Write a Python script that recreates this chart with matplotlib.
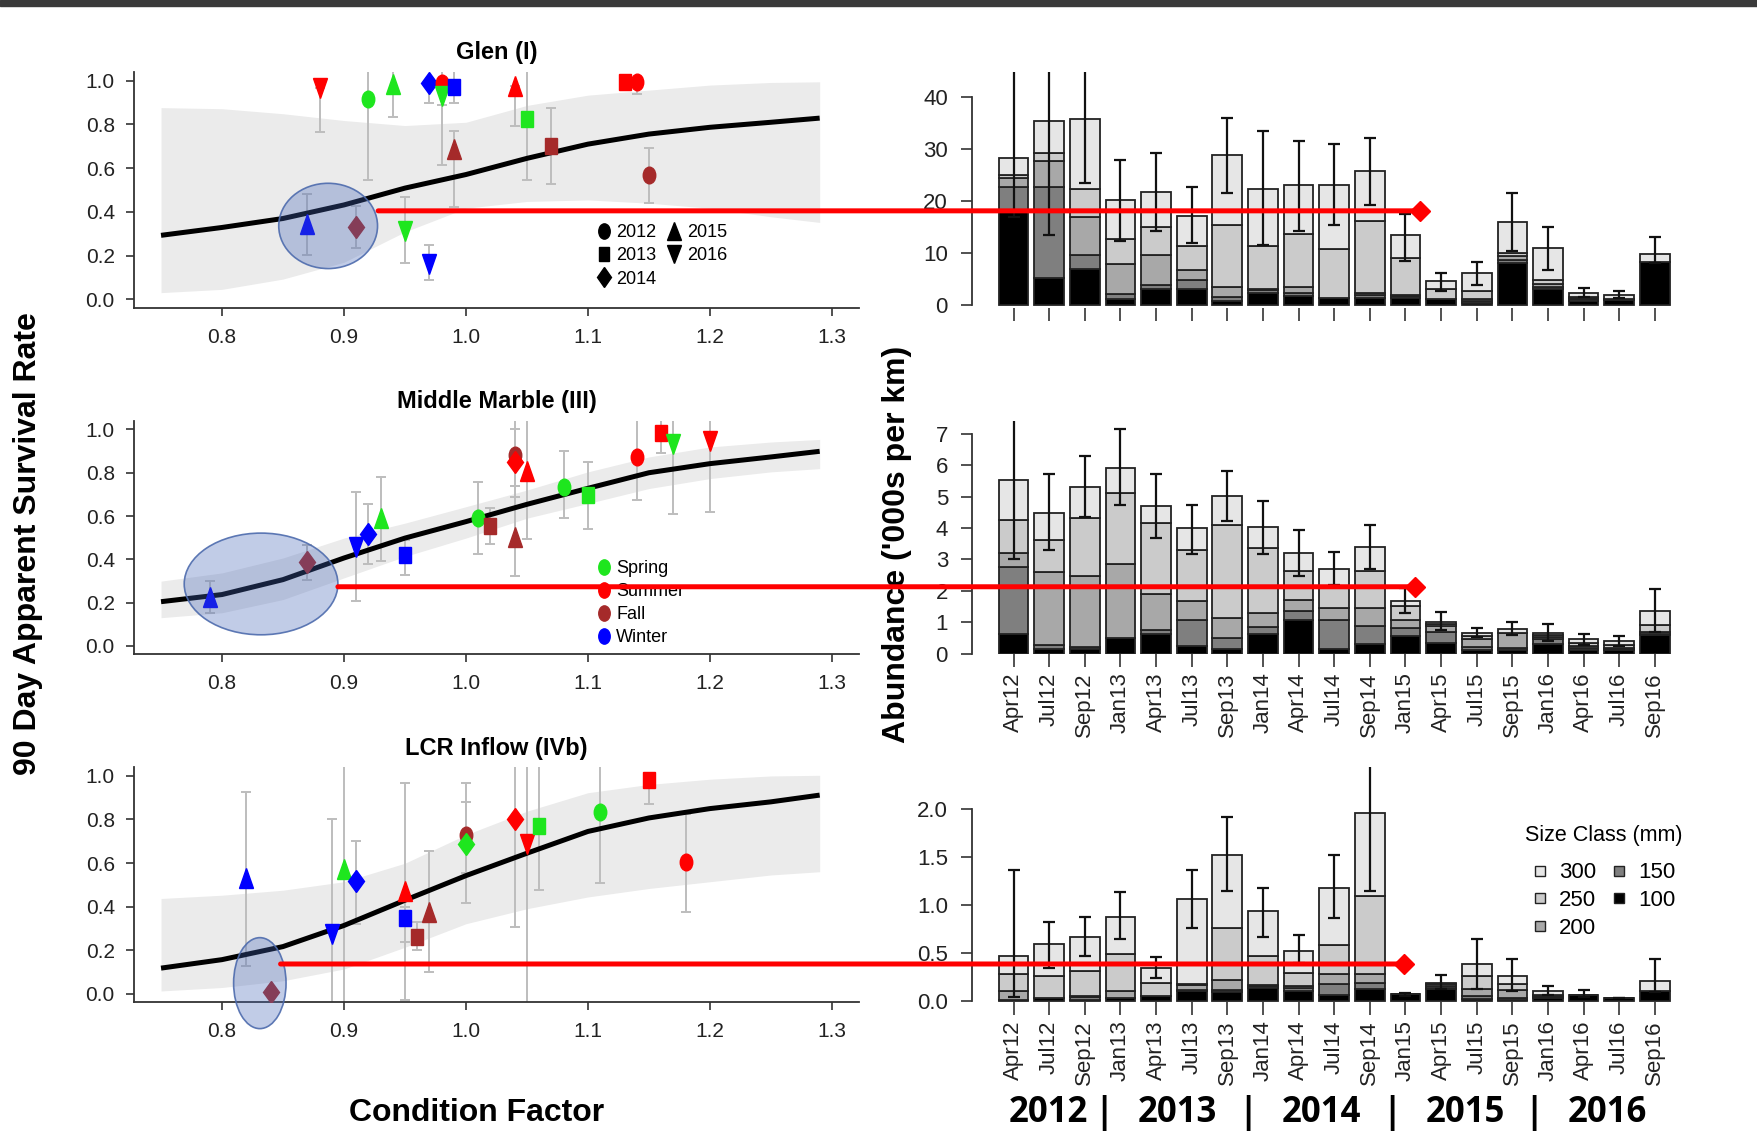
import matplotlib
matplotlib.use("Agg")
import matplotlib.pyplot as plt
import numpy as np
from matplotlib.markers import MarkerStyle
from matplotlib.transforms import Affine2D, blended_transform_factory
from matplotlib.patches import Ellipse, ConnectionPatch, Rectangle
from matplotlib.lines import Line2D

plt.rcParams['font.family'] = ['Liberation Sans', 'DejaVu Sans']

# ---------------- survival vs condition factor (left column) ----------------
fit_x = [0.75, 0.80, 0.85, 0.90, 0.95, 1.00, 1.05, 1.10, 1.15, 1.20, 1.25, 1.29]

glen_fit = [0.293, 0.329, 0.370, 0.432, 0.509, 0.571, 0.645, 0.710, 0.756, 0.787, 0.810, 0.829]
glen_hi_band = [0.877, 0.872, 0.849, 0.818, 0.795, 0.810, 0.887, 0.934, 0.957, 0.980, 0.992, 0.995]
glen_lo_band = [0.031, 0.046, 0.093, 0.170, 0.309, 0.417, 0.448, 0.455, 0.440, 0.417, 0.378, 0.352]

mm_fit = [0.204, 0.237, 0.306, 0.406, 0.498, 0.574, 0.654, 0.728, 0.800, 0.842, 0.873, 0.899]
mm_hi_band = [0.299, 0.337, 0.406, 0.498, 0.567, 0.643, 0.720, 0.804, 0.873, 0.919, 0.942, 0.954]
mm_lo_band = [0.130, 0.153, 0.214, 0.314, 0.413, 0.498, 0.590, 0.658, 0.727, 0.773, 0.804, 0.819]

lcr_fit = [0.117, 0.156, 0.216, 0.313, 0.429, 0.542, 0.645, 0.745, 0.807, 0.850, 0.881, 0.912]
lcr_hi_band = [0.437, 0.452, 0.475, 0.514, 0.599, 0.730, 0.838, 0.923, 0.961, 0.985, 1.000, 1.003]
lcr_lo_band = [0.012, 0.028, 0.059, 0.113, 0.213, 0.321, 0.390, 0.444, 0.483, 0.514, 0.545, 0.560]

glen_cf = [0.88, 0.92, 0.94, 0.97, 0.98, 0.98, 0.99, 0.99, 1.04, 1.05, 1.07, 1.13, 1.14, 1.15, 0.87, 0.91, 0.95, 0.97]
glen_surv = [0.965, 0.918, 0.985, 0.988, 0.988, 0.930, 0.969, 0.687, 0.975, 0.823, 0.700, 0.992, 0.992, 0.568, 0.347, 0.329, 0.312, 0.162]
glen_lo = [0.764, 0.545, 0.836, 0.900, 0.890, 0.614, 0.900, 0.424, 0.795, 0.545, 0.529, 0.970, 0.938, 0.440, 0.205, 0.236, 0.167, 0.088]
glen_hi = [0.965, 1.100, 1.100, 0.988, 0.988, 1.100, 1.100, 0.772, 0.975, 1.100, 0.875, 0.992, 0.992, 0.694, 0.481, 0.427, 0.468, 0.247]
glen_season = ['Su', 'Sp', 'Sp', 'Wi', 'Su', 'Sp', 'Wi', 'Fa', 'Su', 'Sp', 'Fa', 'Su', 'Su', 'Fa', 'Wi', 'Fa', 'Sp', 'Wi']
glen_year = [2016, 2012, 2015, 2014, 2012, 2016, 2013, 2015, 2015, 2013, 2013, 2013, 2012, 2012, 2015, 2014, 2016, 2016]

mm_cf = [0.79, 0.87, 0.91, 0.92, 0.93, 0.95, 1.01, 1.02, 1.04, 1.04, 1.04, 1.05, 1.08, 1.10, 1.14, 1.16, 1.17, 1.20]
mm_surv = [0.227, 0.386, 0.456, 0.516, 0.593, 0.421, 0.590, 0.556, 0.884, 0.850, 0.505, 0.807, 0.735, 0.697, 0.873, 0.983, 0.934, 0.945]
mm_lo = [0.150, 0.306, 0.207, 0.378, 0.390, 0.329, 0.424, 0.470, 0.740, 0.690, 0.322, 0.493, 0.593, 0.540, 0.674, 0.893, 0.609, 0.620]
mm_hi = [0.299, 0.467, 0.712, 0.655, 0.781, 0.490, 0.758, 0.639, 1.100, 1.000, 0.737, 1.100, 0.899, 0.850, 1.100, 1.100, 1.100, 1.100]
mm_season = ['Wi', 'Fa', 'Wi', 'Wi', 'Sp', 'Wi', 'Sp', 'Fa', 'Fa', 'Su', 'Fa', 'Su', 'Sp', 'Sp', 'Su', 'Su', 'Sp', 'Su']
mm_year = [2015, 2014, 2016, 2014, 2015, 2013, 2012, 2013, 2012, 2014, 2015, 2015, 2012, 2013, 2012, 2013, 2016, 2016]

lcr_cf = [0.82, 0.84, 0.89, 0.90, 0.91, 0.95, 0.95, 0.96, 0.97, 1.00, 1.00, 1.04, 1.05, 1.06, 1.11, 1.15, 1.18]
lcr_surv = [0.532, 0.008, 0.275, 0.573, 0.517, 0.471, 0.347, 0.262, 0.375, 0.727, 0.688, 0.800, 0.688, 0.772, 0.833, 0.980, 0.603]
lcr_lo = [0.128, 0.000, -0.100, -0.100, 0.320, -0.030, 0.236, 0.202, 0.097, 0.556, 0.417, 0.306, -0.100, 0.478, 0.509, 0.872, 0.375]
lcr_hi = [0.926, 0.020, 0.800, 1.100, 0.700, 0.966, 0.400, 0.329, 0.653, 0.880, 0.966, 1.100, 1.100, 1.100, 1.100, 0.980, 0.823]
lcr_season = ['Wi', 'Fa', 'Wi', 'Sp', 'Wi', 'Su', 'Wi', 'Fa', 'Fa', 'Fa', 'Sp', 'Su', 'Su', 'Sp', 'Sp', 'Su', 'Su']
lcr_year = [2015, 2014, 2016, 2015, 2014, 2015, 2013, 2013, 2015, 2012, 2014, 2014, 2016, 2013, 2012, 2013, 2012]

season_names = ['Spring', 'Summer', 'Fall', 'Winter']
season_codes = ['Sp', 'Su', 'Fa', 'Wi']
season_colors = {'Sp': '#1EE61E', 'Su': '#FF0000', 'Fa': '#A52A2A', 'Wi': '#0000FF'}
years = [2012, 2013, 2014, 2015, 2016]
year_markers = {2012: 'o', 2013: 's', 2014: 'D', 2015: '^', 2016: 'v'}
marker_size = {'o': 12, 's': 11, 'D': 11, '^': 14, 'v': 14}

# ---------------- abundance by size class (right column) ----------------
months = ['Apr12', 'Jul12', 'Sep12', 'Jan13', 'Apr13', 'Jul13', 'Sep13', 'Jan14', 'Apr14', 'Jul14',
          'Sep14', 'Jan15', 'Apr15', 'Jul15', 'Sep15', 'Jan16', 'Apr16', 'Jul16', 'Sep16']
size_classes = ['100', '150', '200', '250', '300']
size_colors = ['#000000', '#7F7F7F', '#A8A8A8', '#CBCBCB', '#E6E6E6']

# cumulative heights (top of each size class segment)
glen_cum = [
    [17.8, 5.2, 6.9, 1.1, 3.1, 3.1, 0.8, 2.3, 1.8, 1.4, 1.4, 1.4, 1.1, 0.45, 8.0, 3.0, 0.8, 1.0, 8.3],
    [22.7, 22.7, 9.7, 2.2, 3.9, 4.9, 1.6, 2.9, 2.4, 1.4, 1.9, 1.8, 1.1, 0.8, 8.6, 3.5, 1.2, 1.0, 8.3],
    [24.4, 27.7, 17.0, 7.8, 9.7, 6.8, 3.4, 3.1, 3.5, 1.4, 2.4, 2.0, 1.1, 1.1, 9.4, 4.0, 1.3, 1.1, 8.3],
    [25.0, 29.3, 22.4, 12.7, 15.0, 11.3, 15.3, 11.3, 13.7, 10.7, 16.2, 9.1, 3.0, 2.7, 10.0, 4.8, 1.5, 1.2, 8.3],
    [28.3, 35.4, 35.7, 20.2, 21.8, 17.2, 28.9, 22.4, 23.1, 23.1, 25.7, 13.4, 4.6, 6.2, 15.9, 11.0, 2.4, 1.9, 9.9],
]
glen_ab_lo = [17.0, 13.4, 23.4, 12.4, 14.3, 12.0, 21.5, 11.5, 14.3, 15.3, 19.2, 8.5, 2.7, 3.9, 10.3, 6.8, 1.6, 1.3, 8.0]
glen_ab_hi = [50.0, 50.0, 50.0, 27.9, 29.2, 22.7, 36.0, 33.4, 31.5, 30.9, 32.1, 17.5, 6.2, 8.2, 21.5, 15.0, 3.2, 2.7, 13.0]

mm_cum = [
    [0.61, 0.13, 0.13, 0.50, 0.61, 0.23, 0.13, 0.61, 1.06, 0.13, 0.29, 0.56, 0.33, 0.10, 0.10, 0.30, 0.12, 0.10, 0.59],
    [2.75, 0.26, 0.21, 0.50, 0.76, 1.08, 0.48, 0.84, 1.35, 1.08, 0.87, 0.80, 0.68, 0.20, 0.17, 0.45, 0.17, 0.14, 0.62],
    [3.22, 2.59, 2.48, 2.85, 1.90, 1.68, 1.13, 1.30, 1.72, 1.46, 1.46, 1.07, 0.88, 0.46, 0.67, 0.54, 0.24, 0.19, 0.70],
    [4.26, 3.61, 4.31, 5.12, 4.15, 3.29, 4.10, 3.36, 2.64, 2.08, 2.64, 1.51, 0.95, 0.56, 0.67, 0.59, 0.35, 0.27, 0.91],
    [5.54, 4.47, 5.32, 5.91, 4.69, 3.99, 5.02, 4.04, 3.19, 2.69, 3.40, 1.68, 1.02, 0.67, 0.78, 0.67, 0.45, 0.40, 1.36],
]
mm_ab_lo = [3.00, 3.29, 4.35, 4.73, 3.67, 3.17, 4.22, 3.17, 2.48, 2.20, 2.70, 1.30, 0.75, 0.52, 0.59, 0.41, 0.27, 0.25, 0.70]
mm_ab_hi = [7.60, 5.72, 6.30, 7.16, 5.72, 4.73, 5.83, 4.86, 3.94, 3.24, 4.10, 2.10, 1.31, 0.82, 0.99, 0.94, 0.61, 0.56, 2.05]

lcr_cum = [
    [0.017, 0.035, 0.017, 0.035, 0.052, 0.104, 0.097, 0.139, 0.108, 0.070, 0.125, 0.073, 0.125, 0.028, 0.017, 0.038, 0.070, 0.038, 0.104],
    [0.017, 0.035, 0.042, 0.035, 0.052, 0.118, 0.118, 0.156, 0.139, 0.177, 0.194, 0.073, 0.140, 0.052, 0.035, 0.045, 0.070, 0.038, 0.104],
    [0.104, 0.035, 0.052, 0.104, 0.052, 0.167, 0.222, 0.174, 0.156, 0.282, 0.285, 0.073, 0.160, 0.132, 0.115, 0.052, 0.070, 0.038, 0.104],
    [0.285, 0.260, 0.313, 0.490, 0.191, 0.180, 0.758, 0.473, 0.299, 0.584, 1.097, 0.073, 0.177, 0.260, 0.184, 0.070, 0.070, 0.038, 0.104],
    [0.473, 0.600, 0.671, 0.880, 0.344, 1.060, 1.520, 0.936, 0.525, 1.180, 1.950, 0.073, 0.195, 0.390, 0.264, 0.108, 0.070, 0.038, 0.209],
]
lcr_ab_lo = [0.05, 0.348, 0.473, 0.650, 0.243, 0.760, 1.150, 0.671, 0.393, 0.866, 1.150, 0.060, 0.125, 0.132, 0.104, 0.070, 0.050, 0.038, 0.100]
lcr_ab_hi = [1.36, 0.824, 0.880, 1.130, 0.456, 1.360, 1.910, 1.180, 0.689, 1.520, 2.600, 0.087, 0.278, 0.650, 0.440, 0.156, 0.122, 0.038, 0.440]

# highlighted low-condition groups and the arrows into the abundance plots
ellipses = [(0.887, 0.336, 0.081, 0.39), (0.832, 0.286, 0.126, 0.47), (0.831, 0.048, 0.043, 0.418)]
arrow_start = [(0.928, 0.405), (0.895, 0.273), (0.848, 0.136)]
arrow_end_x = [14.38, 14.21, 13.85]

year_text = ['2012', '|', '2013', '|', '2014', '|', '2015', '|', '2016']
year_text_x = [935, 985, 1050, 1113, 1179, 1241, 1307, 1368, 1434]


def mk(m):
    # R output here looks horizontally squeezed
    return MarkerStyle(m, transform=Affine2D().scale(0.75, 1.0))


fig = plt.figure(figsize=(17.58, 11.46), dpi=100)
W, H = 1568.0, 1022.0
rows = [(0.7311, 0.2061), (0.4289, 0.2039), (0.1254, 0.2051)]

fig.patches.append(Rectangle((0, 1 - 6 / 1146), 1, 6 / 1146, transform=fig.transFigure,
                             color='#3A3A3A', zorder=0))

left_axes = []
right_axes = []
panels = [
    ('Glen (I)', glen_fit, glen_lo_band, glen_hi_band, glen_cf, glen_surv, glen_lo, glen_hi, glen_season, glen_year),
    ('Middle Marble (III)', mm_fit, mm_lo_band, mm_hi_band, mm_cf, mm_surv, mm_lo, mm_hi, mm_season, mm_year),
    ('LCR Inflow (IVb)', lcr_fit, lcr_lo_band, lcr_hi_band, lcr_cf, lcr_surv, lcr_lo, lcr_hi, lcr_season, lcr_year),
]

for i, (title, fit, blo, bhi, cx, cy, clo, chi, cseas, cyear) in enumerate(panels):
    b, h = rows[i]
    ax = fig.add_axes([119.7 / W, b, 646.2 / W, h])
    ax.fill_between(fit_x, blo, bhi, color='#EBEBEB', lw=0, zorder=1)
    ax.plot(fit_x, fit, color='black', lw=3.6, zorder=3, solid_capstyle='butt')
    cx = np.array(cx); cy = np.array(cy)
    yerr = [cy - np.array(clo), np.array(chi) - cy]
    ax.errorbar(cx, cy, yerr=yerr, fmt='none', ecolor='#BDBDBD', elinewidth=1.4,
                capsize=3.5, capthick=1.4, zorder=2)
    for xv, yv, s, yr in zip(cx, cy, cseas, cyear):
        m = year_markers[yr]
        ax.plot(xv, yv, ls='none', marker=mk(m), ms=marker_size[m],
                color=season_colors[s], mec=season_colors[s], zorder=4)
    ax.set_xlim(0.728, 1.322)
    ax.set_ylim(-0.04, 1.04)
    ax.set_xticks([0.8, 0.9, 1.0, 1.1, 1.2, 1.3])
    ax.set_xticklabels(['0.8', '0.9', '1.0', '1.1', '1.2', '1.3'])
    ax.set_yticks([0, 0.2, 0.4, 0.6, 0.8, 1.0])
    ax.set_yticklabels(['0.0', '0.2', '0.4', '0.6', '0.8', '1.0'])
    for sp in ['top', 'right']:
        ax.spines[sp].set_visible(False)
    for sp in ['left', 'bottom']:
        ax.spines[sp].set_linewidth(1.3)
        ax.spines[sp].set_color('#333333')
    ax.tick_params(direction='out', length=6, width=1.2, color='#333333', labelsize=15,
                   labelcolor='#222222', pad=8)
    ax.set_title(title, fontsize=17, fontweight='bold', pad=9)
    ex, ey, ew, eh = ellipses[i]
    ax.add_patch(Ellipse((ex, ey), ew, eh, facecolor=(0.27, 0.40, 0.72, 0.33),
                         edgecolor=(0.30, 0.42, 0.68, 0.9), lw=1.2, zorder=6, clip_on=False))
    left_axes.append(ax)

# legends on the left panels
yr_handles = [Line2D([], [], ls='none', marker=mk(year_markers[y]), ms=marker_size[year_markers[y]] - 1,
                     color='black') for y in years]
left_axes[0].legend(yr_handles, [str(y) for y in years], ncol=2, loc='upper left',
                    bbox_to_anchor=(0.638, 0.355), frameon=False, fontsize=13, handlelength=0.8,
                    handletextpad=0.3, columnspacing=0.6, labelspacing=0.34, borderpad=0,
                    borderaxespad=0)
se_handles = [Line2D([], [], ls='none', marker=mk('o'), ms=11, color=season_colors[c]) for c in season_codes]
left_axes[1].legend(se_handles, season_names, loc='upper left', bbox_to_anchor=(0.638, 0.405),
                    frameon=False, fontsize=13, handlelength=0.8, handletextpad=0.3,
                    labelspacing=0.34, borderpad=0, borderaxespad=0)

# abundance panels
xpos = 0.7 + 1.2 * np.arange(len(months))
ab_panels = [
    (glen_cum, glen_ab_lo, glen_ab_hi, (-0.6, 44.8), [0, 10, 20, 30, 40], ['0', '10', '20', '30', '40']),
    (mm_cum, mm_ab_lo, mm_ab_hi, (-0.03, 7.42), list(range(8)), [str(v) for v in range(8)]),
    (lcr_cum, lcr_ab_lo, lcr_ab_hi, (-0.01, 2.43), [0, 0.5, 1.0, 1.5, 2.0], ['0.0', '0.5', '1.0', '1.5', '2.0']),
]
for i, (cum, alo, ahi, ylim, yt, ytl) in enumerate(ab_panels):
    b, h = rows[i]
    ax = fig.add_axes([866.6 / W, b, 652.1 / W, h])
    prev = np.zeros(len(months))
    for k in range(5):
        top = np.array(cum[k])
        ax.bar(xpos, top - prev, bottom=prev, width=1.0, color=size_colors[k],
               edgecolor='#222222', linewidth=1.3, zorder=2)
        prev = top
    tot = np.array(cum[4])
    ax.errorbar(xpos, tot, yerr=[tot - np.array(alo), np.array(ahi) - tot], fmt='none',
                ecolor='#111111', elinewidth=1.6, capsize=4.5, capthick=1.6, zorder=3)
    ax.set_xlim(-0.712, 23.912)
    ax.set_ylim(*ylim)
    ax.set_yticks(yt)
    ax.set_yticklabels(ytl)
    ax.set_xticks(xpos)
    if i == 0:
        ax.set_xticklabels([])
    else:
        ax.set_xticklabels(months, rotation=90)
    for sp in ['top', 'right', 'bottom']:
        ax.spines[sp].set_visible(False)
    ax.spines['left'].set_bounds(yt[0], yt[-1])
    ax.spines['left'].set_linewidth(1.3)
    ax.spines['left'].set_color('#333333')
    ax.tick_params(axis='y', direction='out', length=8, width=1.2, color='#333333',
                   labelsize=16, labelcolor='#222222', pad=9)
    ax.tick_params(axis='x', direction='out', length=9, width=1.2, color='#333333',
                   labelsize=16, labelcolor='#222222', pad=4)
    right_axes.append(ax)

sz_handles = [Line2D([], [], ls='none', marker='s', ms=7, mfc=size_colors[k], mec='#222222', mew=1)
              for k in [4, 3, 2, 1, 0]]
leg = right_axes[2].legend(sz_handles, ['300', '250', '200', '150', '100'], ncol=2, loc='upper left',
                           bbox_to_anchor=(0.757, 0.755), frameon=False, fontsize=16,
                           title='Size Class (mm)', title_fontsize=15.5, handlelength=0.7,
                           handletextpad=0.5, columnspacing=0.7, labelspacing=0.3, borderpad=0,
                           borderaxespad=0)
leg._legend_box.sep = 12

# red connectors from the highlighted groups to the abundance panels
for i in range(3):
    axL, axR = left_axes[i], right_axes[i]
    blend = blended_transform_factory(axR.transData, axL.transData)
    xs, ys = arrow_start[i]
    con = ConnectionPatch(xyA=(xs, ys), coordsA=axL.transData, xyB=(arrow_end_x[i], ys),
                          coordsB=blend, color='#FF0000', lw=3.6, zorder=20)
    fig.add_artist(con)
    fig.add_artist(Line2D([arrow_end_x[i]], [ys], transform=blend, ls='none', marker='D',
                          ms=10, color='#FF0000', zorder=21))

# outer labels
fig.text(0.016, 0.5254, '90 Day Apparent Survival Rate', rotation=90, ha='center', va='center',
         fontsize=23, fontweight='bold')
fig.text(800 / W, 0.5254, "Abundance ('000s per km)", rotation=90, ha='center', va='center',
         fontsize=23, fontweight='bold')
fig.text(425 / W, 1 - 993 / H, 'Condition Factor', ha='center', va='center',
         fontsize=23, fontweight='bold')
for t, xv in zip(year_text, year_text_x):
    fig.text(xv / W, 1 - 993 / H, t, ha='center', va='center', fontsize=25,
             fontweight='bold', family=['Open Sans', 'DejaVu Sans'])

fig.savefig('out.png', dpi=100)
